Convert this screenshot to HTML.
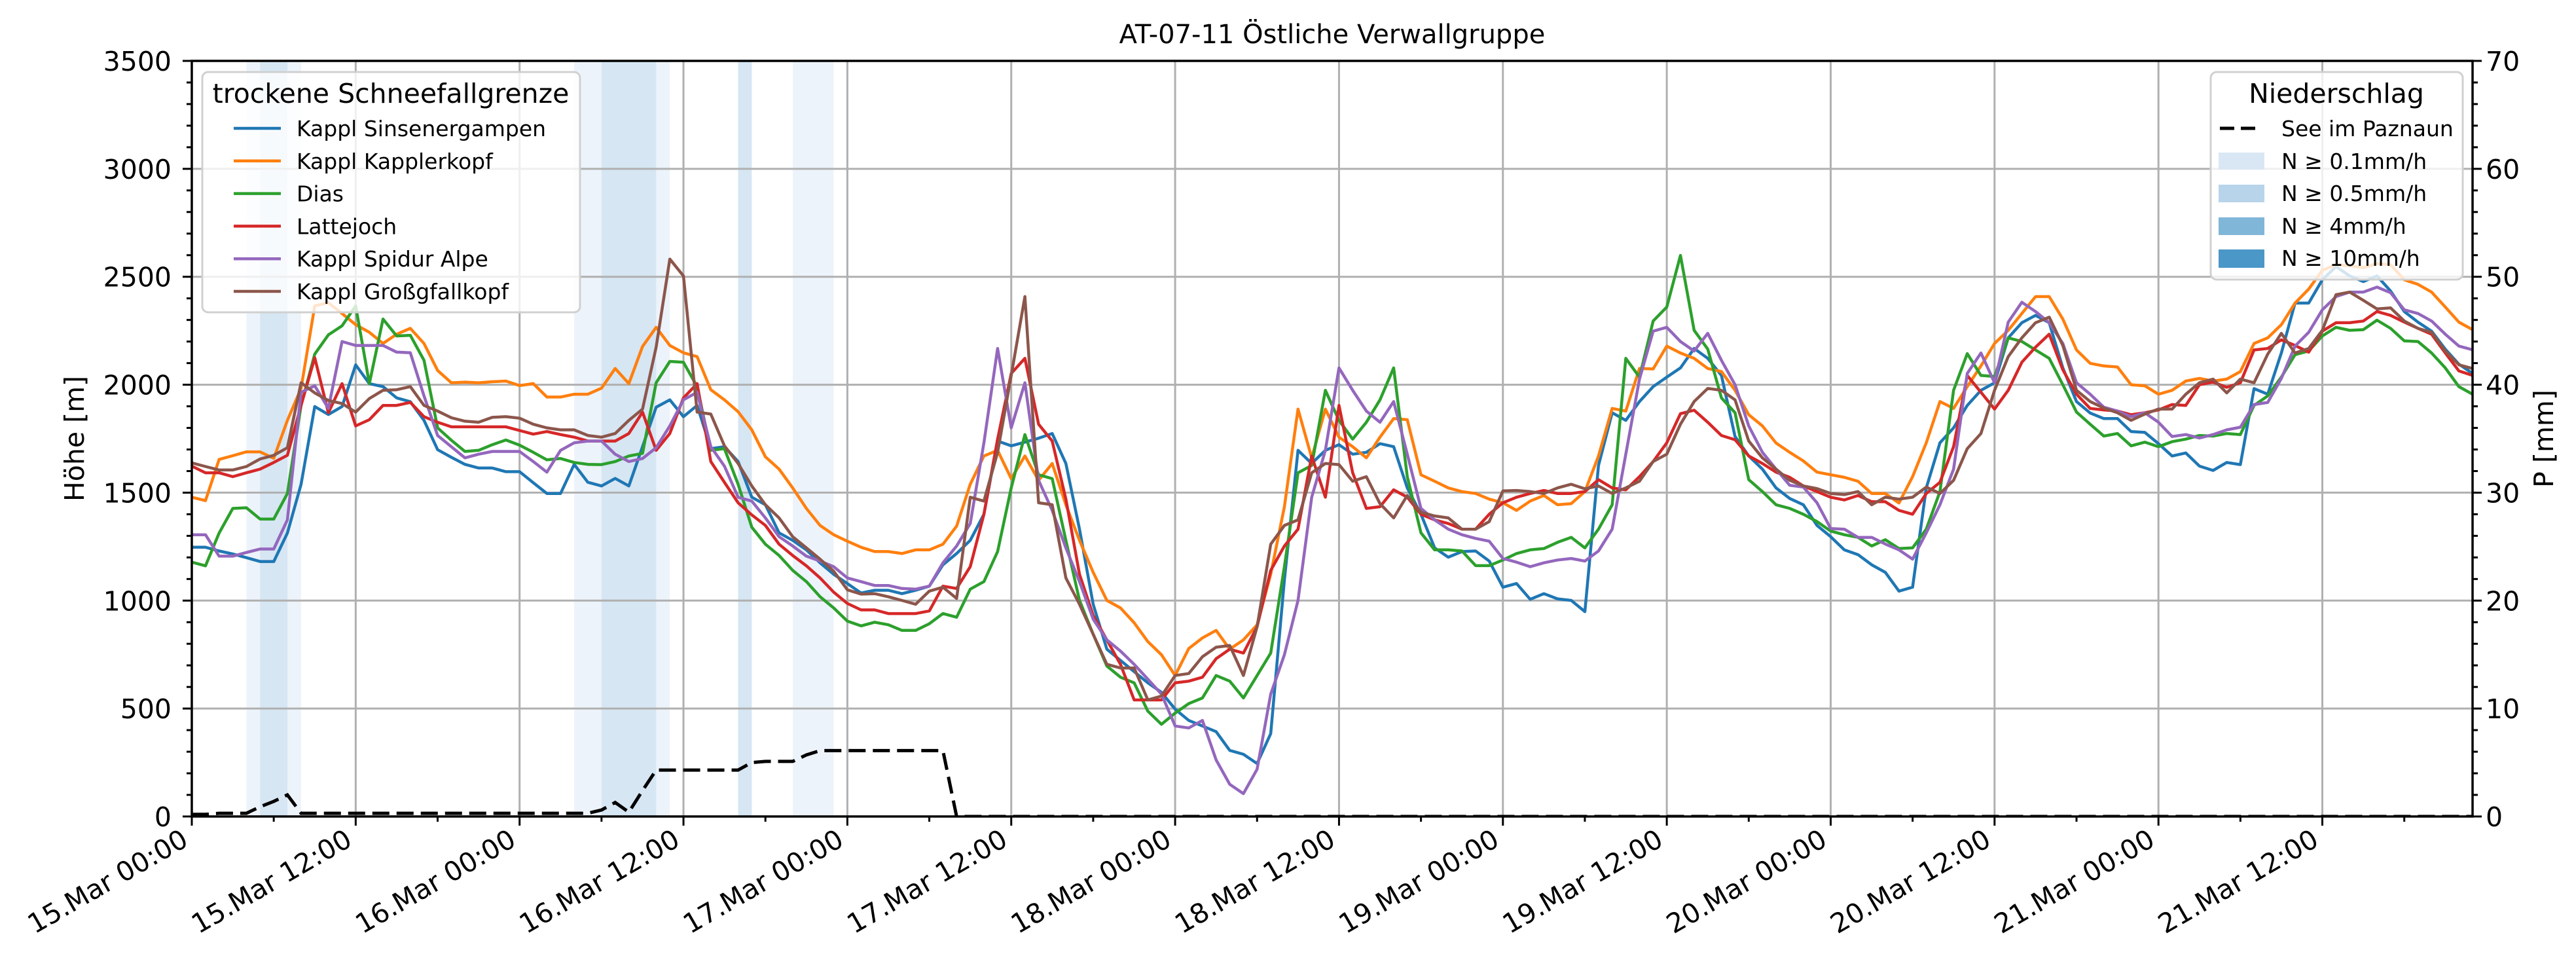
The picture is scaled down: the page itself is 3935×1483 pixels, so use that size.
<!DOCTYPE html>
<html><head><meta charset="utf-8"><title>AT-07-11 Östliche Verwallgruppe</title>
<style>
html,body{margin:0;padding:0;background:#fff;}
svg{display:block;font-family:"DejaVu Sans","Liberation Sans",sans-serif;}
</style></head>
<body>
<svg id="chart" width="3935" height="1483" viewBox="0 0 3935 1483" xmlns="http://www.w3.org/2000/svg">
<defs><clipPath id="plotclip"><rect x="293" y="93" width="3484" height="1154"/></clipPath></defs>
<rect x="0" y="0" width="3935" height="1483" fill="#fff"/>
<g id="spans"></g>
<g id="grid"></g>
<g id="series" clip-path="url(#plotclip)"></g>
<g id="precip" clip-path="url(#plotclip)"></g>
<g id="axes"></g>
<text x="2035" y="66" font-size="40" text-anchor="middle">AT-07-11 Östliche Verwallgruppe</text>
<text transform="translate(128,670) rotate(-90)" font-size="41" text-anchor="middle">Höhe [m]</text>
<text transform="translate(3900,670) rotate(-90)" font-size="41" text-anchor="middle">P [mm]</text>
<g id="legend1">
<rect x="309" y="110" width="577" height="367" rx="9" fill="#fff" fill-opacity="0.8" stroke="#d0d0d0" stroke-width="3"/>
<text x="597" y="157" font-size="41" text-anchor="middle">trockene Schneefallgrenze</text>
</g>
<g id="legend2">
<rect x="3377" y="110" width="385" height="317" rx="9" fill="#fff" fill-opacity="0.8" stroke="#d0d0d0" stroke-width="3"/>
<text x="3569" y="157" font-size="41" text-anchor="middle">Niederschlag</text>
<line x1="3391" y1="196" x2="3448" y2="196" stroke="#000" stroke-width="5" stroke-dasharray="22 10"/>
<text x="3485" y="208" font-size="33">See im Paznaun</text>
<rect x="3389" y="233" width="70" height="26" fill="#d9e7f4"/>
<text x="3485" y="258" font-size="33">N ≥ 0.1mm/h</text>
<rect x="3389" y="282" width="70" height="27" fill="#b8d4ea"/>
<text x="3485" y="307" font-size="33">N ≥ 0.5mm/h</text>
<rect x="3389" y="332" width="70" height="27" fill="#80b6d8"/>
<text x="3485" y="357" font-size="33">N ≥ 4mm/h</text>
<rect x="3389" y="381" width="70" height="28" fill="#4a97c8"/>
<text x="3485" y="406" font-size="33">N ≥ 10mm/h</text>
</g>
</svg>
<script>
// ---- data ----
const names = ["Kappl Sinsenergampen","Kappl Kapplerkopf","Dias","Lattejoch","Kappl Spidur Alpe","Kappl Großgfallkopf"];
const colors = ["#1f77b4","#ff7f0e","#2ca02c","#d62728","#9467bd","#8c564b"];
const sinsen = [1247,1247,1230,1216,1199,1181,1181,1313,1539,1899,1862,1899,2092,2005,1991,1939,1921,1835,1699,1664,1631,1614,1614,1597,1597,1546,1496,1496,1631,
1548,1531,1566,1531,1713,1896,1930,1852,1904,1704,1713,1644,1479,1444,1314,1279,1235,1175,1122,1079,1035,1048,1048,1032,1048,1067,1166,1218,
1279,1400,1739,1717,1734,1752,1774,1635,1331,983,775,723,671,619,575,497,445,419,393,306,288,245,384,1096,1696,1635,1696,1722,1678,
1687,1727,1713,1522,1400,1244,1201,1227,1230,1183,1062,1079,1006,1032,1008,1001,949,1626,1870,1835,1922,1991,2035,2078,2168,2122,2043,1760,
1670,1609,1522,1473,1444,1348,1296,1235,1213,1166,1131,1044,1062,1522,1731,1800,1904,1974,2009,2217,2287,2321,2287,2078,1922,1869,1843,1843,
1783,1779,1727,1670,1684,1623,1603,1640,1630,1982,1956,2147,2378,2378,2486,2547,2504,2478,2504,2434,2339,2290,2248,2165,2095,2052];
const kappler = [1479,1463,1654,1671,1689,1689,1659,1835,1983,2365,2380,2330,2278,2243,2191,2234,2261,2191,2066,2009,2012,2009,2014,2017,1996,2005,1943,1943,1956,
1956,1984,2075,2005,2177,2266,2182,2148,2130,1977,1930,1875,1791,1666,1609,1522,1427,1348,1305,1275,1247,1227,1227,1218,1235,1235,1261,1345,
1539,1670,1696,1565,1670,1557,1635,1444,1279,1131,1001,966,897,810,749,653,778,827,862,775,818,888,1122,1435,1887,1661,1887,1757,1713,
1661,1757,1843,1838,1583,1553,1522,1505,1496,1470,1453,1418,1461,1487,1444,1449,1505,1670,1890,1878,2075,2073,2179,2147,2122,2075,2061,1974,
1861,1809,1730,1687,1647,1595,1583,1571,1553,1496,1496,1452,1574,1731,1922,1890,1991,2087,2191,2252,2330,2408,2408,2304,2161,2099,2087,2082,
2000,1995,1956,1974,2017,2029,2017,2026,2061,2191,2217,2278,2378,2443,2530,2556,2551,2542,2561,2556,2486,2465,2429,2360,2290,2255];
const dias = [1178,1161,1313,1427,1430,1378,1378,1496,1904,2142,2231,2273,2365,2005,2304,2226,2229,2113,1800,1743,1691,1696,1722,1744,1720,1687,1652,1658,1640,
1631,1630,1644,1670,1682,2009,2108,2104,1991,1696,1704,1539,1340,1261,1209,1140,1088,1018,966,905,883,900,888,862,862,893,940,923,
1053,1088,1227,1522,1769,1583,1565,1279,1001,844,697,645,619,488,427,479,523,549,653,627,549,653,757,1157,1592,1626,1974,1835,1748,
1826,1930,2078,1574,1314,1235,1235,1230,1162,1162,1188,1218,1235,1241,1270,1293,1244,1331,1444,2122,2035,2295,2360,2599,2252,2165,1939,1870,
1560,1505,1444,1427,1400,1366,1322,1305,1293,1253,1282,1241,1244,1331,1505,1974,2144,2043,2038,2217,2200,2161,2122,2000,1873,1817,1762,1774,
1717,1734,1713,1736,1748,1765,1762,1774,1769,1904,1948,2035,2139,2156,2226,2266,2252,2255,2299,2261,2203,2200,2147,2078,1991,1956];
const latte = [1623,1592,1592,1574,1592,1609,1640,1673,1904,2125,1870,2005,1809,1838,1904,1904,1918,1852,1826,1805,1805,1805,1805,1805,1788,1771,1783,1769,1757,
1739,1739,1739,1774,1873,1696,1774,1939,2005,1644,1548,1453,1397,1348,1261,1209,1161,1105,1039,987,957,957,940,940,940,952,1067,1056,
1157,1400,1748,2052,2122,1817,1739,1470,1122,931,818,705,540,540,540,619,627,645,731,775,757,879,1140,1253,1331,1670,1479,1904,1592,
1427,1435,1513,1479,1400,1374,1357,1331,1331,1400,1453,1479,1496,1510,1496,1496,1505,1560,1522,1513,1574,1644,1731,1866,1882,1826,1765,1745,
1670,1635,1595,1571,1531,1505,1479,1466,1487,1458,1458,1418,1400,1496,1548,1713,2043,1965,1887,1974,2104,2174,2234,2069,1956,1890,1883,1878,
1861,1870,1883,1908,1904,2000,2012,1988,2009,2161,2168,2208,2182,2151,2248,2287,2287,2295,2339,2321,2290,2261,2234,2147,2064,2043];
const spidur = [1305,1305,1206,1206,1223,1239,1239,1374,1965,1995,1890,2200,2182,2182,2182,2151,2148,1948,1765,1713,1661,1678,1691,1691,1691,1644,1595,1696,1731,
1739,1739,1678,1644,1658,1708,1809,1930,1965,1713,1623,1479,1461,1383,1296,1253,1206,1183,1157,1105,1088,1070,1070,1056,1053,1067,1175,1253,
1357,1731,2168,1800,2009,1557,1418,1244,1088,914,818,766,705,636,567,419,410,445,262,149,106,219,567,749,1001,1479,1696,2078,1974,
1878,1826,1922,1678,1427,1374,1331,1305,1288,1275,1195,1178,1157,1175,1188,1195,1183,1230,1331,1678,2026,2248,2266,2200,2156,2238,2113,2000,
1809,1687,1609,1534,1526,1453,1334,1331,1293,1293,1262,1235,1192,1314,1444,1609,2052,2147,2009,2290,2382,2339,2287,2191,2009,1956,1896,1878,
1852,1870,1826,1760,1769,1753,1769,1791,1803,1908,1918,2029,2179,2243,2347,2408,2429,2429,2452,2426,2347,2330,2295,2234,2179,2162];
const gross = [1638,1621,1605,1605,1621,1656,1673,1708,2009,1962,1927,1913,1873,1936,1974,1977,1991,1904,1878,1847,1831,1826,1849,1852,1845,1817,1800,1791,1791,
1765,1757,1774,1835,1887,2174,2582,2504,1873,1864,1717,1635,1531,1444,1383,1296,1244,1192,1136,1050,1030,1032,1018,1001,983,1044,1062,1010,
1479,1461,1687,2043,2408,1453,1444,1105,983,844,705,688,688,540,558,653,662,740,784,792,653,879,1261,1348,1374,1592,1635,1630,1553,
1574,1449,1383,1487,1409,1392,1383,1331,1331,1366,1508,1510,1505,1496,1522,1539,1518,1531,1496,1522,1553,1644,1678,1817,1922,1983,1974,1930,
1739,1661,1609,1557,1531,1519,1496,1491,1505,1444,1479,1470,1479,1526,1496,1557,1704,1774,1974,2130,2217,2287,2313,2182,1974,1922,1892,1870,
1835,1864,1887,1887,1956,2009,2026,1962,2026,2009,2142,2238,2147,2168,2252,2417,2429,2391,2351,2356,2295,2261,2243,2156,2092,2075];
// cumulative precipitation, hours 0..56; afterwards 0 until the end (hour 167)
const precipSum = [0.2,0.2,0.3,0.3,0.3,0.9,1.4,2.0,0.3,0.3,0.3,0.3,0.3,0.3,0.3,0.3,0.3,0.3,0.3,0.3,0.3,0.3,0.3,0.3,0.3,0.3,0.3,0.3,0.3,
0.3,0.6,1.3,0.4,2.4,4.3,4.3,4.3,4.3,4.3,4.3,4.3,5.0,5.1,5.1,5.1,5.7,6.1,6.1,6.1,6.1,6.1,6.1,6.1,6.1,6.1,6.1,0];
const precipTailValue = [0];
const spanStart = [4,5,28,30,40,44];
const spanEnd = [8,7,35,34,41,47];
const spanLevel = [1,2,1,2,2,1];
const xTickHours = [0,12,24,36,48,60,72,84,96,108,120,132,144,156];
const xTickLabels = ["15.Mar 00:00","15.Mar 12:00","16.Mar 00:00","16.Mar 12:00","17.Mar 00:00","17.Mar 12:00","18.Mar 00:00","18.Mar 12:00","19.Mar 00:00","19.Mar 12:00","20.Mar 00:00","20.Mar 12:00","21.Mar 00:00","21.Mar 12:00"];
const yTicks = [0,500,1000,1500,2000,2500,3000,3500];
const y2Ticks = [0,10,20,30,40,50,60,70];

// ---- scales ----
const L=293,R=3777,T=93,B=1247,HMAX=167,YMAX=3500,PMAX=70;
const X = h => L + h*(R-L)/HMAX;
const Y = v => B - v*(B-T)/YMAX;
const YP = p => B - p*(B-T)/PMAX;
const NS="http://www.w3.org/2000/svg";
function mk(tag, attrs, parent){const e=document.createElementNS(NS,tag);for(const k in attrs)e.setAttribute(k,attrs[k]);parent.appendChild(e);return e;}

// spans
const gS=document.getElementById('spans');
spanStart.forEach((s,i)=>{
  const r=mk('rect',{x:X(s),y:T,width:X(spanEnd[i])-X(s),height:B-T,fill:spanLevel[i]===1?'#edf3fa':'#d6e6f3'},gS);
  
  
});
// grid
const gG=document.getElementById('grid');
xTickHours.forEach(h=>{
  const l=mk('line',{x1:X(h),x2:X(h),y1:T,y2:B,stroke:'#b0b0b0','stroke-width':3},gG);
  
  
});
yTicks.forEach(v=>{
  const l=mk('line',{x1:L,x2:R,y1:Y(v),y2:Y(v),stroke:'#b0b0b0','stroke-width':3},gG);
  
  
});
// series
const all=[sinsen,kappler,dias,latte,spidur,gross];
const gL=document.getElementById('series');
all.forEach((arr,i)=>{
  const d=arr.map((v,h)=>(h?'L':'M')+X(h).toFixed(1)+','+Y(v).toFixed(1)).join('');
  const p=mk('path',{d:d,fill:'none',stroke:colors[i],'stroke-width':4.5,'stroke-linejoin':'round'},gL);
  
  
});
// precip line
const gP=document.getElementById('precip');
let pd=precipSum.map((v,h)=>(h?'L':'M')+X(h).toFixed(1)+','+YP(v).toFixed(1)).join('');
pd+='L'+X(HMAX).toFixed(1)+','+YP(precipTailValue[0]).toFixed(1);
const pl=mk('path',{d:pd,fill:'none',stroke:'#000','stroke-width':5,'stroke-dasharray':'26 11'},gP);


// axes
const gA=document.getElementById('axes');
const frame=mk('rect',{x:L,y:T,width:R-L,height:B-T,fill:'none',stroke:'#000','stroke-width':3.5},gA);


for(let h=0;h<=HMAX;h+=6){
  const major=h%12===0;
  const t=mk('line',{x1:X(h),x2:X(h),y1:B,y2:B+(major?14:8),stroke:'#000','stroke-width':3},gA);
  
  
}
xTickHours.forEach((h,i)=>{
  const x=X(h)-3, y=1290;
  const t=mk('text',{x:x,y:y,'font-size':41,'text-anchor':'end',transform:'rotate(-30 '+x+' '+y+')'},gA);
  t.textContent=xTickLabels[i];
  
  
});
for(let v=0;v<=YMAX;v+=100){
  const major=v%500===0;
  const t=mk('line',{x1:L-(major?14:8),x2:L,y1:Y(v),y2:Y(v),stroke:'#000','stroke-width':3},gA);
  
  
}
yTicks.forEach(v=>{
  const t=mk('text',{x:262,y:Y(v)+15,'font-size':41,'text-anchor':'end'},gA);
  t.textContent=v;
  
  
});
for(let p=0;p<=PMAX;p+=2){
  const major=p%10===0;
  const t=mk('line',{x1:R,x2:R+(major?14:8),y1:YP(p),y2:YP(p),stroke:'#000','stroke-width':3},gA);
  
  
}
y2Ticks.forEach(p=>{
  const t=mk('text',{x:3797,y:YP(p)+15,'font-size':41},gA);
  t.textContent=p;
  
  
});
// legend 1 entries
const gL1=document.getElementById('legend1');
names.forEach((n,i)=>{
  const cy=196+i*49.8;
  const l=mk('line',{x1:357,x2:429,y1:cy,y2:cy,stroke:colors[i],'stroke-width':4.5},gL1);
  
  
  const t=mk('text',{x:453,y:cy+12,'font-size':33},gL1);
  t.textContent=n;
  
  
});
</script>
</body></html>
